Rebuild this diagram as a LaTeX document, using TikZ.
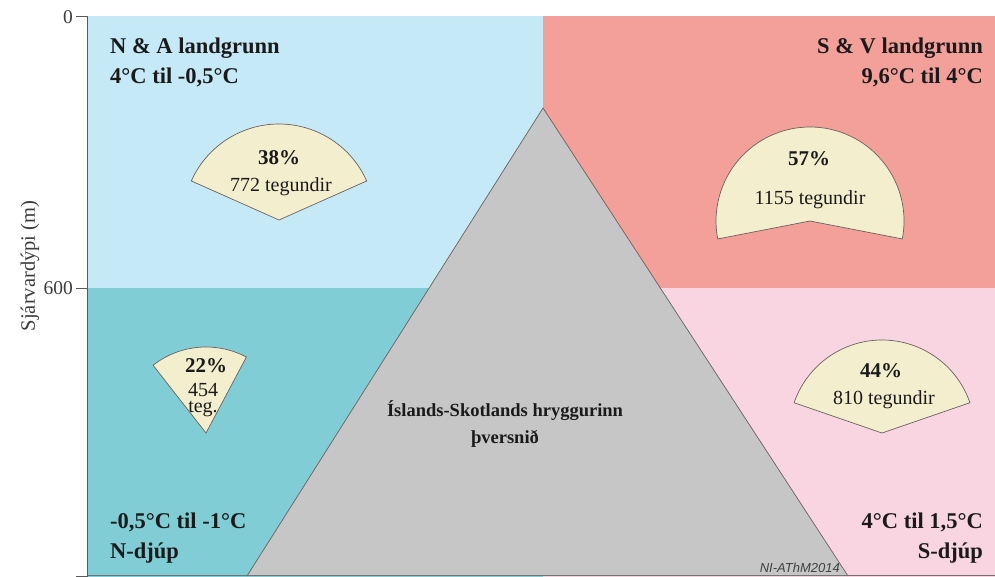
\documentclass[tikz,border=0pt]{standalone}
\usepackage{fontspec}
\setmainfont{Liberation Serif}
\newfontfamily\creditfont{Liberation Sans}
\definecolor{cNA}{HTML}{C6E9F8}
\definecolor{cSV}{HTML}{F4A09A}
\definecolor{cND}{HTML}{80CDD5}
\definecolor{cSD}{HTML}{F9D5E2}
\definecolor{cRidge}{HTML}{C6C6C6}
\definecolor{cWedge}{HTML}{F3EECD}
\definecolor{cEdge}{HTML}{6A6060}
\definecolor{cText}{HTML}{1A1A1A}
\tikzset{
  head/.style={font=\fontsize{22.5}{27}\selectfont\bfseries, text=cText, inner sep=0pt},
  pct/.style={font=\fontsize{21}{25}\selectfont\bfseries, text=cText, inner sep=0pt, anchor=base},
  cnt/.style={font=\fontsize{20}{24}\selectfont, text=cText, inner sep=0pt, anchor=base},
  wedgeshape/.style={fill=cWedge, draw=cEdge, line width=0.7pt},
  ticklab/.style={font=\fontsize{19.5}{23}\selectfont, text=cText!85, inner sep=0pt, anchor=east},
  axisline/.style={draw=black!65, line width=0.8pt}
}
\begin{document}
\begin{tikzpicture}[x=1pt,y=-1pt]
\useasboundingbox (0,0) rectangle (995,576);
\fill[white] (0,0) rectangle (995,576);
% zones
\fill[cNA] (87,16) rectangle (543,288);
\fill[cSV] (543,16) rectangle (995,288);
\fill[cND] (87,288) rectangle (543,577);
\fill[cSD] (543,288) rectangle (995,577);
% ridge
\coordinate (apex) at (543,108);
\coordinate (bl) at (247,576);
\coordinate (br) at (848,576);
\fill[cRidge] (bl) -- (apex) -- (br) -- cycle;
\draw[cEdge, line width=0.7pt] (bl) -- (apex) -- (br);
\draw[black!55, line width=0.8pt] (87,575) -- (995,575);
% axis
\draw[axisline] (87,16) -- (87,577);
\draw[axisline] (76,16) -- (87,16);
\draw[axisline] (76,288) -- (87,288);
\draw[axisline] (76,576) -- (87,576);
\node[ticklab] (t0) at (73,17) {0};
\node[ticklab] (t600) at (73,288) {600};
\node[ticklab] (t2018) at (73,585) {2018};
\node[font=\fontsize{20.5}{24}\selectfont, text=cText!85, rotate=90, inner sep=0pt] (ylab) at (30,266) {Sjárvardýpi (m)};
% headers
\node[head, anchor=base west] (na1) at (110,53) {N \& A landgrunn};
\node[head, anchor=base west] (na2) at (110,83) {4°C til -0,5°C};
\node[head, anchor=base east] (sv1) at (983,53) {S \& V landgrunn};
\node[head, anchor=base east] (sv2) at (983,83) {9,6°C til 4°C};
\node[head, anchor=base west] (nd1) at (110,528) {-0,5°C til -1°C};
\node[head, anchor=base west] (nd2) at (110,558) {N-djúp};
\node[head, anchor=base east] (sd1) at (983,528) {4°C til 1,5°C};
\node[head, anchor=base east] (sd2) at (983,558) {S-djúp};
% ridge label
\node[font=\fontsize{18.5}{22}\selectfont\bfseries, text=cText, inner sep=0pt, anchor=base] (r1) at (505,416) {Íslands-Skotlands hryggurinn};
\node[font=\fontsize{18.5}{22}\selectfont\bfseries, text=cText, inner sep=0pt, anchor=base] (r2) at (505,443) {þversnið};
% wedges
\draw[wedgeshape] (279,220) -- ++(24:96pt) arc[start angle=24, end angle=156, radius=96pt] -- cycle;
\draw[wedgeshape] (810,221) -- ++(-11:94pt) arc[start angle=-11, end angle=191, radius=94pt] -- cycle;
\draw[wedgeshape] (206,433) -- ++(62:86pt) arc[start angle=62, end angle=128, radius=86pt] -- cycle;
\draw[wedgeshape] (882,433) -- ++(19:93pt) arc[start angle=19, end angle=161, radius=93pt] -- cycle;
% wedge labels
\node[pct] (p38) at (279,164) {38\%};
\node[cnt] (n38) at (281,191) {772 tegundir};
\node[pct] (p57) at (809,165) {57\%};
\node[cnt] (n57) at (810,204) {1155 tegundir};
\node[pct] (p22) at (206,372) {22\%};
\node[cnt] (n22a) at (203,396) {454};
\node[cnt] (n22b) at (203,412) {teg.};
\node[pct] (p44) at (881,377) {44\%};
\node[cnt] (n44) at (884,404) {810 tegundir};
% credit
\node[font=\creditfont\itshape\fontsize{13}{15}\selectfont, text=black!75, inner sep=0pt, anchor=base east] (cred) at (840,572) {NI-AThM2014};
\end{tikzpicture}
\end{document}
